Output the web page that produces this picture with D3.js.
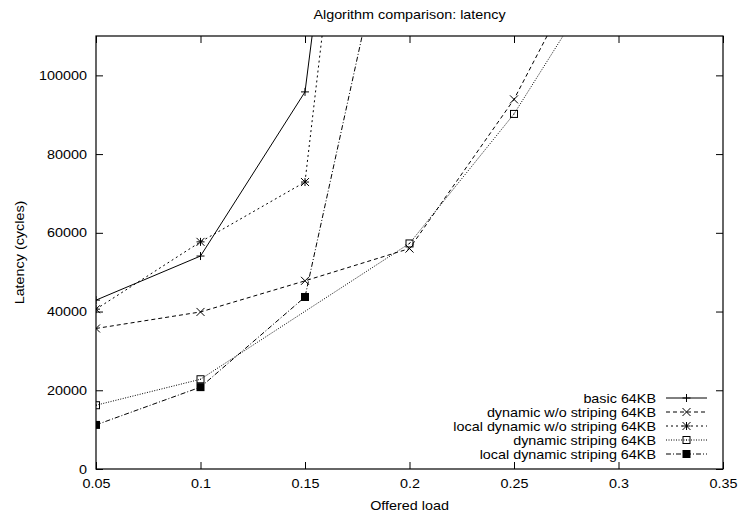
<!DOCTYPE html>
<html><head><meta charset="utf-8">
<script src="https://cdn.jsdelivr.net/npm/d3@7"></script>
<style>
html,body{margin:0;padding:0;background:#fff;}
text{font-family:"Liberation Sans",Arial,Helvetica,sans-serif;font-size:12.6px;fill:#000;}
</style></head>
<body><svg id="chart" width="739" height="516"></svg>
<script>
const title = "Algorithm comparison: latency";
const xLabel = "Offered load";
const yLabel = "Latency (cycles)";
const xTicks = [0.05, 0.1, 0.15, 0.2, 0.25, 0.3, 0.35];
const yTicks = [0, 20000, 40000, 60000, 80000, 100000];
const seriesNames = ["basic 64KB", "dynamic w/o striping 64KB", "local dynamic w/o striping 64KB", "dynamic striping 64KB", "local dynamic striping 64KB"];
const basicX = [0.05, 0.1, 0.15, 0.2];
const basicY = [42900, 54100, 95800, 305000];
const dynX = [0.05, 0.1, 0.15, 0.2, 0.25, 0.3];
const dynY = [35700, 39900, 47800, 56000, 93900, 144800];
const localDynX = [0.05, 0.1, 0.15, 0.2];
const localDynY = [40600, 57700, 72900, 300000];
const dynStripX = [0.05, 0.1, 0.2, 0.25, 0.3];
const dynStripY = [16200, 22800, 57300, 90200, 132400];
const localStripX = [0.05, 0.1, 0.15, 0.2];
const localStripY = [11200, 20800, 43700, 165000];

const SX = 1.14; // horizontal stretch of text, as in the reference
const styles = [
  {dash: null, marker: "plus"},
  {dash: "4,3", marker: "cross"},
  {dash: "2,3", marker: "star"},
  {dash: "1,1.5", marker: "box"},
  {dash: "5,2,1,2", marker: "fbox"}
];
const xsAll = [basicX, dynX, localDynX, dynStripX, localStripX];
const ysAll = [basicY, dynY, localDynY, dynStripY, localStripY];
const series = seriesNames.map((n, i) => ({name: n, pts: xsAll[i].map((x, j) => ({x, y: ysAll[i][j]})), style: styles[i]}));

const L = 96, R = 723, T = 36, B = 469;
const svg = d3.select("#chart");
const x = d3.scaleLinear().domain([0.05, 0.35]).range([L, R]);
const y = d3.scaleLinear().domain([0, 110000]).range([B, T]);

svg.append("defs").append("clipPath").attr("id", "clip")
  .append("rect").attr("x", L).attr("y", T).attr("width", R - L).attr("height", B - T);

function stretch(sel) {
  sel.each(function () {
    const t = d3.select(this);
    const tx = +(t.attr("x") || 0), ty = +(t.attr("y") || 0);
    t.attr("x", 0).attr("y", 0).attr("transform", `translate(${tx},${ty}) scale(${SX},1)`);
  });
}

const tl = 7;
const gx = svg.append("g").attr("transform", `translate(0,${B})`)
  .call(d3.axisBottom(x).tickValues(xTicks).tickFormat(d3.format("")).tickSizeInner(-tl).tickSizeOuter(0).tickPadding(10));
const gxt = svg.append("g").attr("transform", `translate(0,${T})`)
  .call(d3.axisTop(x).tickValues(xTicks).tickFormat("").tickSizeInner(-tl).tickSizeOuter(0));
const gy = svg.append("g").attr("transform", `translate(${L},0)`)
  .call(d3.axisLeft(y).tickValues(yTicks).tickFormat(d3.format("d")).tickSizeInner(-tl).tickSizeOuter(0).tickPadding(9));
const gyr = svg.append("g").attr("transform", `translate(${R},0)`)
  .call(d3.axisRight(y).tickValues(yTicks).tickFormat("").tickSizeInner(-tl).tickSizeOuter(0));
[gx, gxt, gy, gyr].forEach(g => {
  g.select(".domain").remove();
  g.selectAll("line").attr("stroke", "#000");
  g.selectAll("text").attr("font-size", 12.6).attr("font-family", "Liberation Sans, Arial, sans-serif");
});
gx.selectAll("text").attr("dy", "0.71em");
stretch(gx.selectAll("text"));
stretch(gy.selectAll("text"));

svg.append("rect").attr("x", L).attr("y", T).attr("width", R - L).attr("height", B - T)
  .attr("fill", "none").attr("stroke", "#000").attr("stroke-width", 1.2);

svg.append("text").attr("x", (L + R) / 2).attr("y", 19).attr("text-anchor", "middle").text(title).call(stretch);
svg.append("text").attr("x", (L + R) / 2).attr("y", 510).attr("text-anchor", "middle").text(xLabel).call(stretch);
svg.append("text").attr("transform", `translate(24,${(T + B) / 2}) rotate(-90) scale(${SX},1)`).attr("text-anchor", "middle").text(yLabel);

function drawMarker(g, m, cx, cy) {
  const s = 4;
  if (m === "plus" || m === "star") {
    g.append("path").attr("d", `M${cx - s},${cy}H${cx + s}M${cx},${cy - s}V${cy + s}`).attr("stroke", "#000").attr("stroke-width", 1);
  }
  if (m === "cross" || m === "star") {
    g.append("path").attr("d", `M${cx - s},${cy - s}L${cx + s},${cy + s}M${cx - s},${cy + s}L${cx + s},${cy - s}`).attr("stroke", "#000").attr("stroke-width", 1);
  }
  if (m === "box") {
    g.append("rect").attr("x", cx - 3.5).attr("y", cy - 3.5).attr("width", 7).attr("height", 7).attr("fill", "none").attr("stroke", "#000").attr("stroke-width", 1);
    g.append("rect").attr("x", cx - 0.5).attr("y", cy - 0.5).attr("width", 1).attr("height", 1).attr("fill", "#000");
  }
  if (m === "fbox") {
    g.append("rect").attr("x", cx - 4).attr("y", cy - 4).attr("width", 8).attr("height", 8).attr("fill", "#000");
  }
}

const line = d3.line().x(d => x(d.x)).y(d => y(d.y));
const plot = svg.append("g").attr("clip-path", "url(#clip)");
series.forEach(s => {
  plot.append("path").datum(s.pts).attr("d", line).attr("fill", "none").attr("stroke", "#000")
    .attr("stroke-width", 1).attr("stroke-dasharray", s.style.dash);
  s.pts.forEach(p => drawMarker(plot, s.style.marker, x(p.x), y(p.y)));
});

const leg = svg.append("g");
series.forEach((s, i) => {
  const ly = 398 + i * 14;
  leg.append("text").attr("x", 656).attr("y", ly + 4.5).attr("text-anchor", "end").text(s.name).call(stretch);
  leg.append("line").attr("x1", 666).attr("x2", 707).attr("y1", ly).attr("y2", ly)
    .attr("stroke", "#000").attr("stroke-width", 1).attr("stroke-dasharray", s.style.dash);
  drawMarker(leg, s.style.marker, 686.5, ly);
});
</script></body></html>
